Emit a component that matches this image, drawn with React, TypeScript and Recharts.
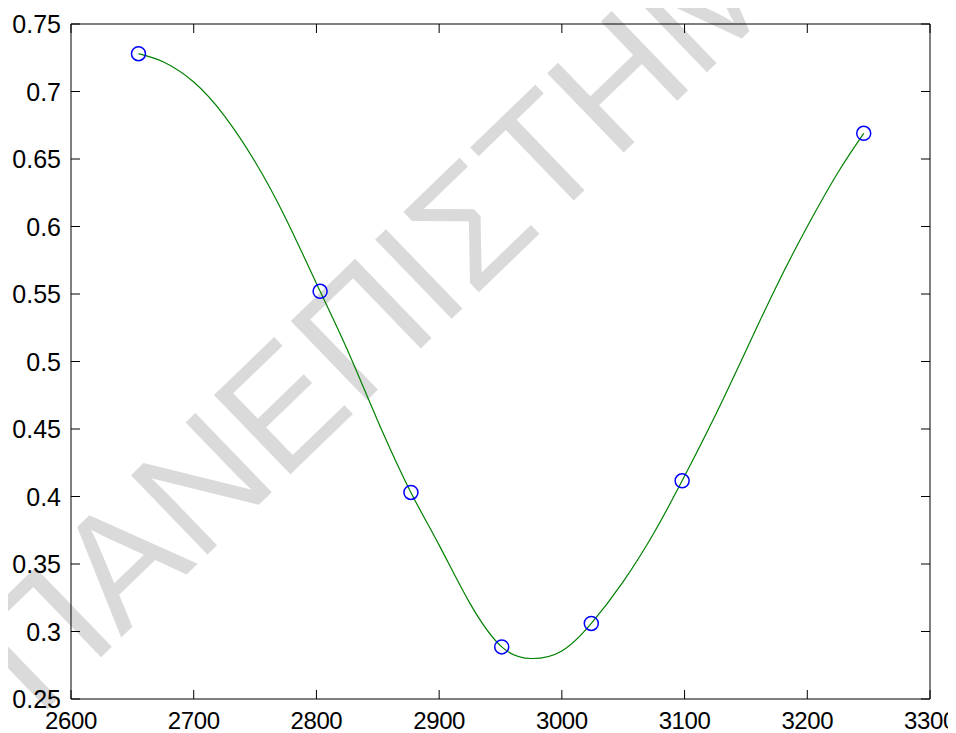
import { ComposedChart, XAxis, YAxis, Line, Scatter } from 'recharts';

// measured samples (blue circles)
const sampleX = [2655, 2803, 2877, 2951, 3024, 3098, 3246];
const sampleY = [0.728, 0.552, 0.403, 0.2886, 0.306, 0.4116, 0.669];

// green fitted curve
const curveX = [2655, 2675, 2700, 2725, 2750, 2775, 2803, 2825, 2850, 2877, 2900, 2925, 2951, 2975, 3000, 3024, 3050, 3075, 3098, 3125, 3150, 3175, 3200, 3225, 3246];
const curveY = [0.728, 0.722, 0.707, 0.682, 0.648, 0.606, 0.552, 0.509, 0.456, 0.403, 0.364, 0.321, 0.2886, 0.28, 0.2856, 0.306, 0.337, 0.373, 0.4116, 0.46, 0.508, 0.556, 0.6, 0.64, 0.669];

const xTicks = [2600, 2700, 2800, 2900, 3000, 3100, 3200, 3300];
const yTicks = [0.25, 0.3, 0.35, 0.4, 0.45, 0.5, 0.55, 0.6, 0.65, 0.7, 0.75];

const samples = sampleX.map((x, i) => ({ x, y: sampleY[i] }));
const curve = curveX.map((x, i) => ({ x, y: curveY[i] }));

const W = 948;
const H = 725;
const ML = 63;
const MT = 16;
const MR = 26;
const MB = 34;
const font = '"Liberation Sans", Arial, sans-serif';
const TICK = 9;

const BottomTick = (props: any) => {
  const { x, payload } = props;
  const y = H - MB;
  return (
    <g>
      <line x1={x} y1={y} x2={x} y2={y - TICK} stroke="#000" />
      <text x={x} y={y + 30} textAnchor="middle" fontSize={24} letterSpacing={-0.4} fontFamily={font} fill="#000">
        {payload.value}
      </text>
    </g>
  );
};

const TopTick = (props: any) => {
  const { x } = props;
  return <line x1={x} y1={MT} x2={x} y2={MT + TICK} stroke="#000" />;
};

const LeftTick = (props: any) => {
  const { y, payload } = props;
  return (
    <g>
      <line x1={ML} y1={y} x2={ML + TICK} y2={y} stroke="#000" />
      <text x={ML - 10} y={y} dy="0.36em" textAnchor="end" fontSize={25} fontFamily={font} fill="#000">
        {String(payload.value)}
      </text>
    </g>
  );
};

const RightTick = (props: any) => {
  const { y } = props;
  const x = W - MR;
  return <line x1={x} y1={y} x2={x - TICK} y2={y} stroke="#000" />;
};

const Circle = (props: any) => (
  <circle cx={props.cx} cy={props.cy} r={7} fill="none" stroke="#0000ff" strokeWidth={1.5} />
);

export default function App() {
  return (
    <div style={{ position: 'relative', width: W, height: H }}>
      <svg width={W} height={H} style={{ position: 'absolute', left: 0, top: 0 }}>
        <text
          x={0}
          y={0}
          transform="translate(30 710) rotate(-44)"
          fontSize={160}
          fontFamily={font}
          fill="#dadada"
        >
          ΠΑΝΕΠΙΣΤΗΜΙΟ
        </text>
      </svg>
      <div style={{ position: 'absolute', left: 0, top: 0 }}>
        <ComposedChart width={W} height={H} margin={{ top: MT - 1, right: MR - 1, bottom: 0, left: 0 }}>
          <XAxis
            xAxisId="b"
            dataKey="x"
            type="number"
            domain={[2600, 3300]}
            ticks={xTicks}
            orientation="bottom"
            height={MB}
            axisLine={{ stroke: '#000' }}
            tickLine={false}
            tick={<BottomTick />}
            interval={0}
            allowDataOverflow
          />
          <XAxis
            xAxisId="t"
            dataKey="x"
            type="number"
            domain={[2600, 3300]}
            ticks={xTicks}
            orientation="top"
            height={1}
            axisLine={{ stroke: '#000' }}
            tickLine={false}
            tick={<TopTick />}
            interval={0}
            allowDataOverflow
          />
          <YAxis
            yAxisId="l"
            dataKey="y"
            type="number"
            domain={[0.25, 0.75]}
            ticks={yTicks}
            orientation="left"
            width={ML}
            axisLine={{ stroke: '#000' }}
            tickLine={false}
            tick={<LeftTick />}
            interval={0}
            allowDataOverflow
          />
          <YAxis
            yAxisId="r"
            dataKey="y"
            type="number"
            domain={[0.25, 0.75]}
            ticks={yTicks}
            orientation="right"
            width={1}
            axisLine={{ stroke: '#000' }}
            tickLine={false}
            tick={<RightTick />}
            interval={0}
            allowDataOverflow
          />
          <Scatter
            xAxisId="b"
            yAxisId="l"
            data={samples}
            dataKey="y"
            shape={<Circle />}
            isAnimationActive={false}
          />
          <Line
            xAxisId="b"
            yAxisId="l"
            data={curve}
            dataKey="y"
            type="natural"
            stroke="#008000"
            strokeWidth={1.2}
            dot={false}
            activeDot={false}
            isAnimationActive={false}
          />
        </ComposedChart>
      </div>
    </div>
  );
}
